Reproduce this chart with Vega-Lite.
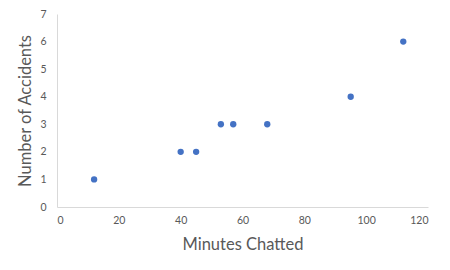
{
  "$schema": "https://vega.github.io/schema/vega-lite/v6.json",
  "width": 371,
  "height": 193,
  "autosize": {"type": "none"},
  "padding": {"left": 57, "top": 14, "right": 22, "bottom": 63},
  "background": "white",
  "config": {
    "view": {"stroke": null},
    "font": "Lato",
    "axis": {
      "grid": false,
      "ticks": false,
      "domainColor": "#d9d9d9",
      "domainWidth": 1,
      "labelColor": "#595959",
      "labelFontSize": 10.5,
      "labelFont": "Lato",
      "titleColor": "#595959",
      "titleFont": "Lato",
      "titleFontSize": 16.5,
      "titleFontWeight": "normal"
    }
  },
  "data": {
    "values": [
      {"minutes": 12, "accidents": 1},
      {"minutes": 40, "accidents": 2},
      {"minutes": 45, "accidents": 2},
      {"minutes": 53, "accidents": 3},
      {"minutes": 57, "accidents": 3},
      {"minutes": 68, "accidents": 3},
      {"minutes": 95, "accidents": 4},
      {"minutes": 112, "accidents": 6}
    ]
  },
  "mark": {"type": "point", "filled": true, "opacity": 1, "size": 40, "color": "#4472C4"},
  "encoding": {
    "x": {
      "field": "minutes",
      "type": "quantitative",
      "title": "Minutes Chatted",
      "scale": {"domain": [0, 120], "nice": false},
      "axis": {"values": [0, 20, 40, 60, 80, 100, 120], "labelPadding": 8, "titlePadding": 11}
    },
    "y": {
      "field": "accidents",
      "type": "quantitative",
      "title": "Number of Accidents",
      "scale": {"domain": [0, 7], "nice": false},
      "axis": {"values": [0, 1, 2, 3, 4, 5, 6, 7], "labelPadding": 11, "titlePadding": 6}
    }
  }
}
